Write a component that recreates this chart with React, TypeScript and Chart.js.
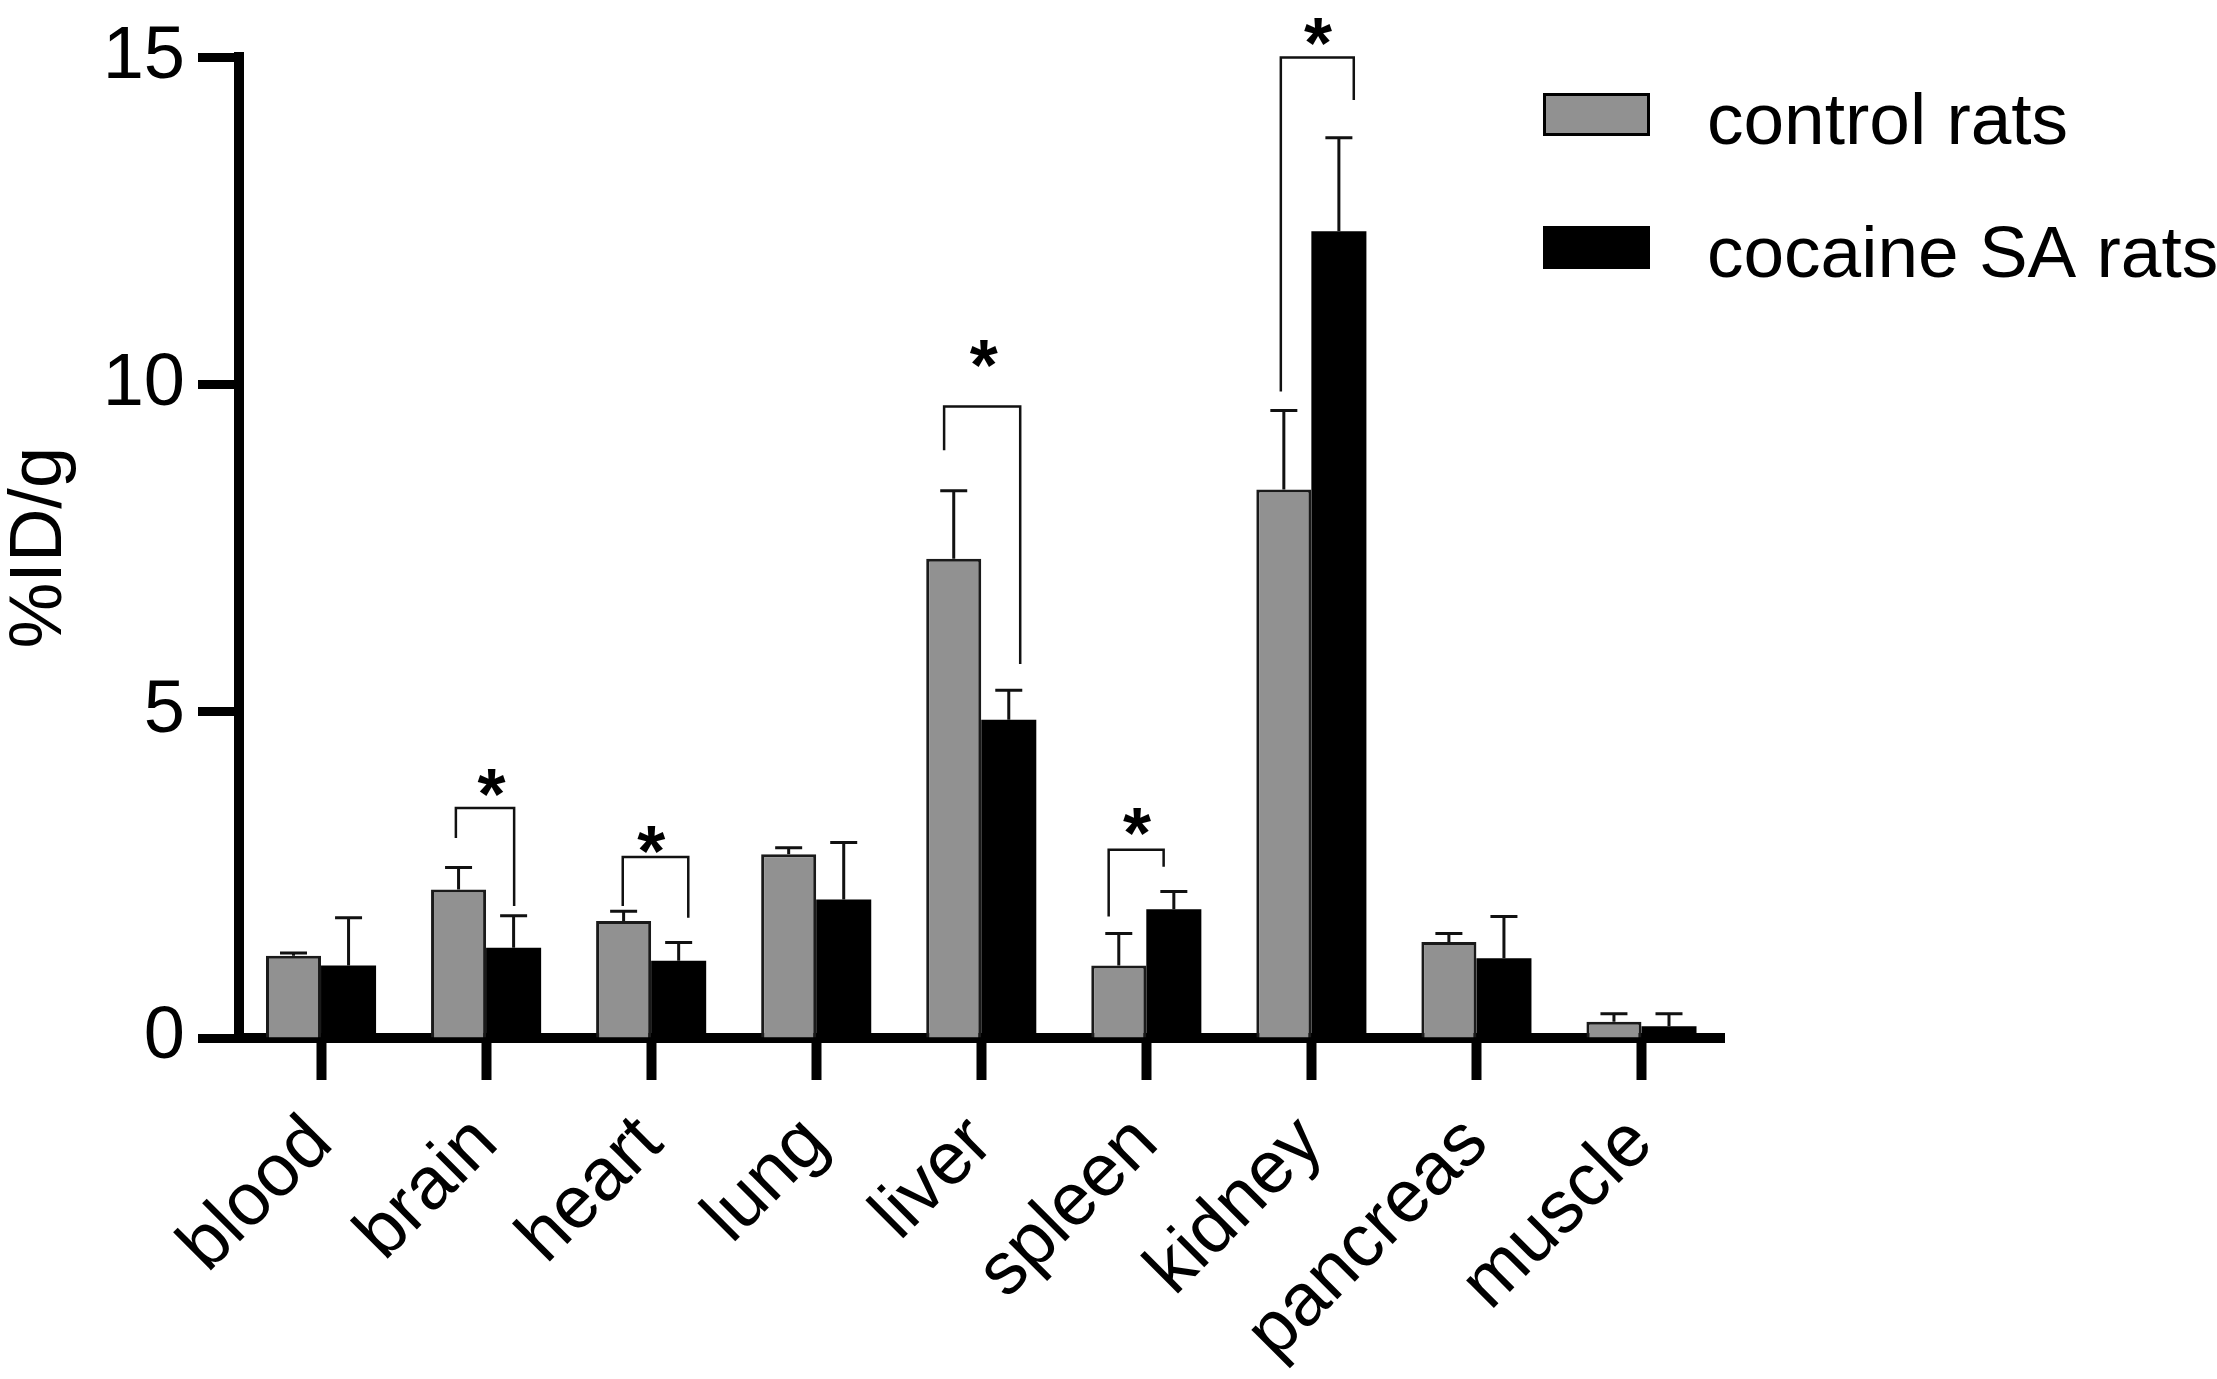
import React, { useEffect, useRef } from 'react';
import { Chart, registerables } from 'chart.js';

Chart.register(...registerables);

// ---------- data ----------
const organs = ['blood', 'brain', 'heart', 'lung', 'liver', 'spleen', 'kidney', 'pancreas', 'muscle'];
const seriesLabels = ['control rats', 'cocaine SA rats'];
const controlMean = [1.26, 2.27, 1.79, 2.81, 7.33, 1.11, 8.39, 1.47, 0.25];
const controlSD = [0.04, 0.34, 0.15, 0.1, 1.04, 0.49, 1.21, 0.13, 0.12];
const cocaineMean = [1.11, 1.38, 1.18, 2.12, 4.87, 1.97, 12.34, 1.22, 0.18];
const cocaineSD = [0.73, 0.49, 0.28, 0.87, 0.45, 0.27, 1.43, 0.64, 0.19];
const yTicks = [0, 5, 10, 15];
const yTitle = '%ID/g';

// significance brackets (value units; x in category units relative to the organ)
const sigOrgan = [1, 2, 4, 5, 6];
const sigTop = [3.52, 2.77, 9.66, 2.88, 15.0];
const sigLeftFoot = [3.06, 2.02, 8.99, 1.86, 9.89];
const sigRightFoot = [2.02, 1.84, 5.72, 2.62, 14.35];
const sigStarY = [3.96, 3.09, 10.52, 3.36, 15.45];
const sigLeftX = [-0.183, -0.172, -0.225, -0.228, -0.185];
const sigRightX = [0.17, 0.225, 0.236, 0.105, 0.257];
const sigStarX = [0.033, 0.0, 0.015, -0.056, 0.04];
const sigMark = '*';

const FONT = "'Liberation Sans', Arial, sans-serif";
const GRAY = '#919191';

const errorPlugin = {
  id: 'errorsAndBrackets',
  afterDatasetsDraw(chart: any) {
    const ctx = chart.ctx;
    const xs = chart.scales.x;
    const ys = chart.scales.y;
    const errs = [controlSD, cocaineSD];
    ctx.save();
    ctx.strokeStyle = '#111';
    ctx.lineCap = 'butt';
    chart.data.datasets.forEach((ds: any, di: number) => {
      const meta = chart.getDatasetMeta(di);
      meta.data.forEach((bar: any, i: number) => {
        const v = ds.data[i];
        const top = ys.getPixelForValue(v + errs[di][i]);
        const base = ys.getPixelForValue(v);
        ctx.lineWidth = 3;
        ctx.beginPath();
        ctx.moveTo(bar.x, base);
        ctx.lineTo(bar.x, top);
        ctx.moveTo(bar.x - 13.5, top);
        ctx.lineTo(bar.x + 13.5, top);
        ctx.stroke();
      });
    });
    // brackets
    ctx.lineWidth = 2.5;
    ctx.lineJoin = 'miter';
    sigOrgan.forEach((o, k) => {
      const xl = xs.getPixelForValue(o + sigLeftX[k]);
      const xr = xs.getPixelForValue(o + sigRightX[k]);
      const yt = ys.getPixelForValue(sigTop[k]);
      ctx.beginPath();
      ctx.moveTo(xl, ys.getPixelForValue(sigLeftFoot[k]));
      ctx.lineTo(xl, yt);
      ctx.lineTo(xr, yt);
      ctx.lineTo(xr, ys.getPixelForValue(sigRightFoot[k]));
      ctx.stroke();
      ctx.fillStyle = '#000';
      ctx.font = `bold 72px ${FONT}`;
      ctx.textAlign = 'center';
      ctx.textBaseline = 'alphabetic';
      ctx.fillText(sigMark, xs.getPixelForValue(o + sigStarX[k]), ys.getPixelForValue(sigStarY[k]) + 0.55 * 72);
    });
    ctx.restore();
  },
};

const legendPlugin = {
  id: 'sideLegend',
  afterDraw(chart: any) {
    const ctx = chart.ctx;
    const boxX = 1543;
    const boxW = 107;
    const boxH = 43;
    const rowTop = [93, 226];
    const textX = 1707;
    ctx.save();
    chart.data.datasets.forEach((ds: any, i: number) => {
      ctx.fillStyle = ds.backgroundColor;
      ctx.fillRect(boxX, rowTop[i], boxW, boxH);
      ctx.strokeStyle = '#000';
      ctx.lineWidth = 3;
      ctx.strokeRect(boxX + 1.5, rowTop[i] + 1.5, boxW - 3, boxH - 3);
      ctx.fillStyle = '#000';
      ctx.font = `73px ${FONT}`;
      ctx.textAlign = 'left';
      ctx.textBaseline = 'alphabetic';
      ctx.fillText(ds.label, textX, rowTop[i] + boxH / 2 + 29);
    });
    ctx.restore();
  },
};

export default function App() {
  const ref = useRef<HTMLCanvasElement | null>(null);

  useEffect(() => {
    if (!ref.current) return;
    const chart = new Chart(ref.current, {
      type: 'bar',
      data: {
        labels: organs,
        datasets: [
          {
            label: seriesLabels[0],
            data: controlMean,
            backgroundColor: GRAY,
            borderColor: '#1a1a1a',
            borderWidth: 3,
            categoryPercentage: 0.667,
            barPercentage: 1.0,
          },
          {
            label: seriesLabels[1],
            data: cocaineMean,
            backgroundColor: '#000000',
            borderColor: '#000000',
            borderWidth: 0,
            categoryPercentage: 0.667,
            barPercentage: 1.0,
          },
        ],
      },
      options: {
        animation: false,
        responsive: false,
        devicePixelRatio: 1,
        layout: { padding: { top: 53, right: 493, bottom: 0, left: 0 } },
        plugins: { legend: { display: false }, tooltip: { enabled: false } },
        scales: {
          x: {
            offset: true,
            grid: {
              display: true,
              drawOnChartArea: false,
              drawTicks: true,
              tickLength: 42,
              tickWidth: 10,
              tickColor: '#000',
              offset: false,
            },
            border: { display: true, color: '#000', width: 10 },
            ticks: {
              font: { family: FONT, size: 74, lineHeight: 0.05 },
              color: '#000',
              minRotation: 45,
              maxRotation: 45,
              padding: 50,
              autoSkip: false,
            },
            afterFit: (s: any) => {
              s.height = 341;
            },
          },
          y: {
            min: 0,
            max: 15,
            grid: {
              display: true,
              drawOnChartArea: false,
              drawTicks: true,
              tickLength: 40.5,
              tickWidth: 9,
              tickColor: '#000',
            },
            border: { display: true, color: '#000', width: 10 },
            ticks: {
              font: { family: FONT, size: 74 },
              color: '#000',
              padding: 13,
            },
            title: {
              display: true,
              text: yTitle,
              font: { family: FONT, size: 74, lineHeight: 1.1 },
              color: '#000',
              padding: 0,
            },
            afterBuildTicks: (s: any) => {
              s.ticks = yTicks.map((v) => ({ value: v }));
            },
            afterFit: (s: any) => {
              s.width = 238.5;
            },
          },
        },
      },
      plugins: [errorPlugin, legendPlugin],
    } as any);
    return () => chart.destroy();
  }, []);

  return (
    <div style={{ position: 'fixed', left: 0, top: 0, width: 2217, height: 1379, background: '#fff' }}>
      <canvas ref={ref} width={2217} height={1379} style={{ display: 'block' }} />
    </div>
  );
}
